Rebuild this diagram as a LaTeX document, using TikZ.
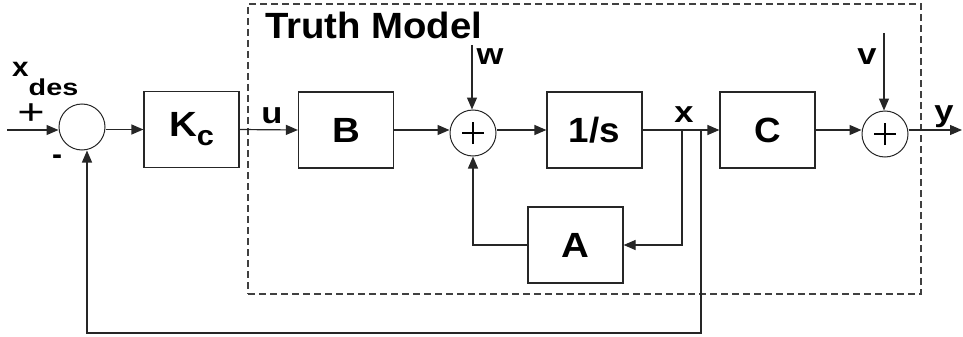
\documentclass[tikz,border=0pt]{standalone}
\usepackage{fontspec}
\setmainfont{Liberation Sans}
\usetikzlibrary{arrows.meta,calc}
\newcommand{\wide}[2]{\scalebox{#1}[1]{#2}}
\begin{document}
\begin{tikzpicture}[x=1pt,y=-1pt,
  blk/.style={draw=black!85, line width=1.2pt, minimum width=95pt, minimum height=76pt, inner sep=0pt, font=\fontsize{35}{35}\selectfont\bfseries},
  sumj/.style={draw=black!85, circle, minimum size=46pt, inner sep=0pt, line width=1pt},
  plus/.style={path picture={\draw[line width=1.1pt,black] ($(path picture bounding box.center)+(-11pt,0)$) -- ++(22pt,0) ($(path picture bounding box.center)+(0,-11pt)$) -- ++(0,22pt);}},
  sig/.style={draw=black!85, -{Triangle[length=12pt,width=10pt]}, line width=1.2pt},
  lbl/.style={font=\fontsize{30}{30}\selectfont\bfseries, inner sep=0pt},
  frame/.style={draw=black!75, line width=1.6pt, dash pattern=on 7pt off 4pt}
]
\useasboundingbox (0,0) rectangle (963,337);
% truth model frame
\node[frame, minimum width=673pt, minimum height=290pt, inner sep=0pt] (tm) at (584.5,149) {};
\node[anchor=base west, inner sep=0pt, font=\fontsize{36.5}{36.5}\selectfont\bfseries] (tmlabel) at (265,39) {\wide{1.05}{Truth Model}};
% blocks
\node[sumj] (s1) at (82,127) {};
\node[blk] (K) at (191.5,129.5) {\wide{1.1}{K}\raisebox{-9pt}{\fontsize{28}{28}\selectfont\wide{1.1}{c}}};
\node[blk] (B) at (346,130) {\wide{1.1}{B}};
\node[sumj,plus] (s2) at (473,133) {};
\node[blk] (I) at (594.5,130) {\wide{1.05}{1/s}};
\node[blk] (C) at (767.5,130) {\wide{1.05}{C}};
\node[sumj,plus] (s3) at (885,134) {};
\node[blk] (A) at (575.5,245) {\wide{1.1}{A}};
% coordinates
\coordinate (in) at (7,130);
\coordinate (xa) at (682,130);
\coordinate (xb) at (701,130);
\coordinate (fb) at (87,333);
\coordinate (out) at (962,130);
\coordinate (w) at (472,45);
\coordinate (v) at (884,33);
% connectors
\draw[sig] (in) -- (in -| s1.west);
\draw[sig] (s1.east |- K.west) -- (K.west);
\draw[sig] (K.east) -- (B.west);
\draw[sig] (B.east) -- (B.east -| s2.west);
\draw[sig] (s2.east |- I.west) -- (I.west);
\draw[sig] (I.east) -- (C.west);
\draw[sig] (xa) |- (A.east);
\draw[sig] (A.west) -| (s2.south);
\draw[sig] (xb) |- (fb) -- (fb |- s1.south);
\draw[sig] (C.east) -- (C.east -| s3.west);
\draw[sig] (s3.east |- C.east) -- (out);
\draw[sig] (w) -- (w |- s2.north);
\draw[sig] (v) -- (v |- s3.north);
% labels
\node[lbl] (lu) at (272,116) {\wide{1.15}{u}};
\node[lbl] (lx) at (684,115) {\wide{1.15}{x}};
\node[lbl] (lw) at (490,57) {\wide{1.15}{w}};
\node[lbl] (lv) at (867,57) {\wide{1.15}{v}};
\node[lbl] (ly) at (944,117) {\wide{1.15}{y}};
\node[anchor=base west, inner sep=0pt, font=\fontsize{27}{27}\selectfont\bfseries] (lxdes) at (12,77) {\wide{1.1}{x}\raisebox{-18pt}{\fontsize{23}{23}\selectfont\wide{1.25}{des}}};
\node[inner sep=0pt, font=\fontsize{36}{36}\selectfont] (lplus) at (31,114) {\wide{1.3}{+}};
\node[inner sep=0pt, font=\fontsize{30}{30}\selectfont\bfseries] (lminus) at (57,160) {-};
\end{tikzpicture}
\end{document}
